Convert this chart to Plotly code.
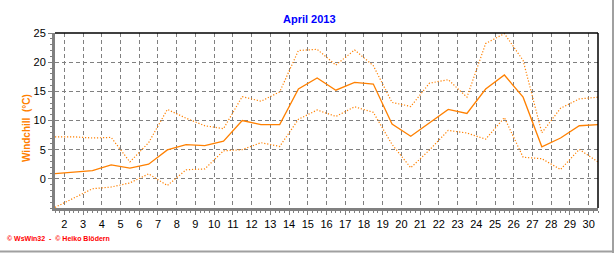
import plotly.graph_objects as go

# ---- data ----
days = list(range(1, 31))
# plotted at noon of each day; axis labels mark the start of the day
windchill_max = [7.2, 7.2, 7.0, 7.1, 2.9, 6.2, 11.9, 10.4, 9.1, 8.6,
                 14.1, 13.3, 14.9, 22.0, 22.2, 19.5, 22.1, 19.4, 13.1, 12.4,
                 16.4, 17.0, 14.0, 23.2, 24.9, 20.3, 7.9, 12.1, 13.7, 14.0]
windchill_mean = [0.9, 1.15, 1.4, 2.4, 1.85, 2.5, 4.95, 5.85, 5.7, 6.45,
                  10.0, 9.3, 9.3, 15.4, 17.3, 15.2, 16.55, 16.25, 9.4, 7.3,
                  9.55, 11.9, 11.2, 15.4, 17.8, 14.0, 5.5, 7.0, 9.1, 9.3]
windchill_min = [-4.9, -3.3, -1.7, -1.4, -0.7, 0.85, -1.15, 1.55, 1.7, 4.8,
                 5.0, 6.2, 5.55, 10.2, 11.8, 10.7, 12.35, 11.4, 5.9, 1.9,
                 4.95, 8.3, 7.85, 6.8, 10.5, 3.7, 3.45, 1.6, 5.05, 2.9]
x_ticks = list(range(2, 31))
y_ticks = [0, 5, 10, 15, 20, 25]

title_text = "April 2013"
y_title = "Windchill  (°C)"
footer = "© WsWin32  -  © Heiko Blödern"

ORANGE = "rgb(255,128,0)"
GRAY = "#808080"
FONT = "Liberation Sans, Arial, sans-serif"

x_pos = [d + 0.5 for d in days]

fig = go.Figure()
fig.add_trace(go.Scatter(x=x_pos, y=windchill_max, mode="lines",
                         line=dict(color=ORANGE, width=1.2, dash="1.2px,1.8px"),
                         showlegend=False, hoverinfo="skip"))
fig.add_trace(go.Scatter(x=x_pos, y=windchill_min, mode="lines",
                         line=dict(color=ORANGE, width=1.2, dash="1.2px,1.8px"),
                         showlegend=False, hoverinfo="skip"))
fig.add_trace(go.Scatter(x=x_pos, y=windchill_mean, mode="lines",
                         line=dict(color=ORANGE, width=1.3),
                         showlegend=False, hoverinfo="skip"))

W, H = 616, 253
L, R, T, B = 55, 18, 33, 45
pw, ph = W - L - R, H - T - B


def px_x(p):
    return (p - L) / pw


def px_y(p):
    return (H - B - p) / ph


fig.update_layout(
    width=W, height=H,
    margin=dict(l=L, r=R, t=T, b=B),
    paper_bgcolor="white", plot_bgcolor="white",
    font=dict(family=FONT, size=11, color="black"),
    xaxis=dict(
        range=[1.5, 30.5], tickvals=x_ticks, ticktext=[str(v) for v in x_ticks],
        showgrid=True, gridcolor=GRAY, gridwidth=1, griddash="4px,3px",
        zeroline=False, showline=True, linecolor=GRAY, linewidth=3,
        ticks="outside", ticklen=4, tickcolor=GRAY, tickwidth=1,
        minor=dict(dtick=0.25, tick0=0, ticks="outside", ticklen=2,
                   tickcolor=GRAY, showgrid=False),
        tickfont=dict(size=11, color="black"), fixedrange=True,
    ),
    yaxis=dict(
        range=[-5, 25], tickvals=y_ticks, ticktext=[str(v) for v in y_ticks],
        showgrid=True, gridcolor=GRAY, gridwidth=1, griddash="4px,3px",
        zeroline=False, showline=True, linecolor=GRAY, linewidth=3,
        ticks="outside", ticklen=4, tickcolor=GRAY, tickwidth=1,
        minor=dict(dtick=1, tick0=0, ticks="outside", ticklen=2,
                   tickcolor=GRAY, showgrid=False),
        tickfont=dict(size=11, color="black"), fixedrange=True,
    ),
    shapes=[
        dict(type="line", xref="paper", yref="paper", x0=0, x1=1, y0=1, y1=1,
             line=dict(color="black", width=1.5)),
        dict(type="line", xref="paper", yref="paper", x0=1, x1=1, y0=0, y1=1,
             line=dict(color="black", width=1.5)),
        dict(type="line", xref="paper", yref="paper", x0=px_x(613), x1=px_x(613),
             y0=px_y(253), y1=px_y(0), line=dict(color="#a0a0a0", width=2)),
        dict(type="line", xref="paper", yref="paper", x0=px_x(0), x1=px_x(613),
             y0=px_y(251.5), y1=px_y(251.5), line=dict(color="#a0a0a0", width=2)),
    ],
    annotations=[
        dict(text=f"<b>{title_text}</b>", xref="paper", yref="paper",
             x=px_x(309), y=px_y(19), xanchor="center", yanchor="middle",
             showarrow=False, font=dict(size=11, color="#0000ff", family=FONT)),
        dict(text=f"<b>{y_title}</b>", xref="paper", yref="paper",
             x=px_x(26), y=px_y(128), xanchor="center", yanchor="middle",
             textangle=-90, showarrow=False,
             font=dict(size=10, color=ORANGE, family=FONT)),
        dict(text=f"<b>{footer}</b>", xref="paper", yref="paper",
             x=px_x(5), y=px_y(238), xanchor="left", yanchor="middle",
             showarrow=False, font=dict(size=7, color="red", family=FONT)),
    ],
)

fig.write_html("out.html")
